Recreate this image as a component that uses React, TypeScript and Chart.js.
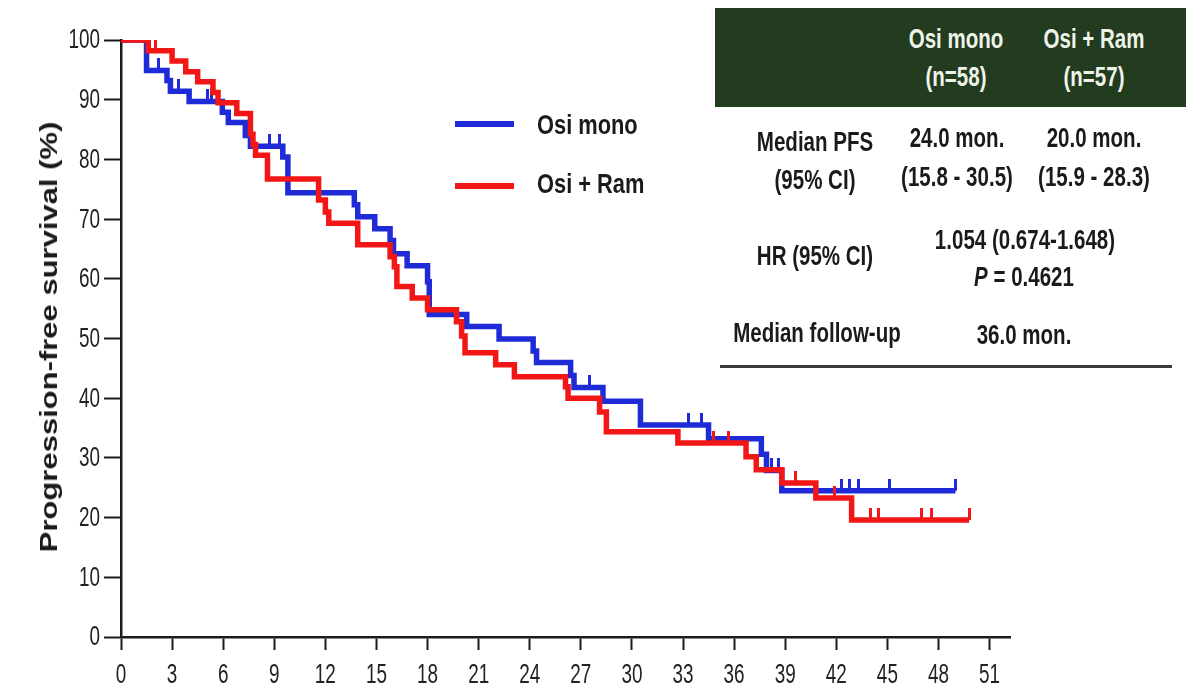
import React, { useEffect, useRef } from "react";
import { Chart, registerables } from "chart.js";

Chart.register(...registerables);

// ---- Data ----
const xTickValues = [0, 3, 6, 9, 12, 15, 18, 21, 24, 27, 30, 33, 36, 39, 42, 45, 48, 51];
const yTickValues = [0, 10, 20, 30, 40, 50, 60, 70, 80, 90, 100];

const osiMonoTimes = [0, 1.5, 2.7, 2.9, 4.0, 5.95, 6.3, 7.3, 7.6, 9.5, 9.8, 13.7, 13.9, 14.9, 15.8, 16.0, 16.8, 18.0, 18.1, 20.3, 22.2, 24.2, 24.4, 26.4, 26.6, 28.3, 30.5, 34.5, 37.6, 37.9, 38.8, 49.0];
const osiMonoSurv = [100, 94.9, 93.2, 91.4, 89.7, 87.9, 86.2, 84.0, 82.2, 80.4, 74.4, 72.4, 70.4, 68.4, 66.4, 64.2, 62.2, 59.5, 54.0, 52.0, 49.9, 47.9, 46.0, 43.8, 41.8, 39.5, 35.5, 33.2, 30.6, 27.9, 24.5, 24.5];

const osiRamTimes = [0, 1.6, 3.0, 3.8, 4.5, 5.4, 5.7, 6.8, 7.6, 7.75, 7.9, 8.6, 11.6, 12.0, 12.2, 13.9, 15.8, 16.05, 16.2, 17.1, 18.0, 19.7, 20.0, 20.2, 22.0, 23.1, 26.1, 26.25, 28.1, 28.5, 32.7, 36.7, 37.3, 38.8, 40.8, 42.9, 49.8];
const osiRamSurv = [100, 98.2, 96.5, 94.7, 93.0, 91.2, 89.5, 87.7, 84.2, 82.5, 80.7, 76.7, 73.2, 71.2, 69.3, 65.7, 63.7, 62.0, 58.7, 56.8, 54.8, 52.8, 50.4, 47.6, 45.6, 43.6, 41.9, 40.0, 37.7, 34.4, 32.5, 30.2, 28.0, 25.8, 23.3, 19.6, 19.6];

const osiMonoCensorT = [2.2, 3.4, 5.1, 5.3, 8.7, 9.3, 27.5, 33.3, 34.1, 38.2, 38.6, 42.3, 42.8, 43.3, 45.1, 49.0];
const osiMonoCensorS = [94.9, 91.4, 89.7, 89.7, 82.2, 82.2, 41.8, 35.5, 35.5, 27.9, 27.9, 24.5, 24.5, 24.5, 24.5, 24.5];
const osiRamCensorT = [2.0, 34.8, 35.7, 39.6, 41.9, 44.0, 44.5, 47.0, 47.6, 49.8];
const osiRamCensorS = [98.2, 32.5, 32.5, 25.8, 23.3, 19.6, 19.6, 19.6, 19.6, 19.6];

const seriesNames = ["Osi mono", "Osi + Ram"];
const yAxisTitle = "Progression-free survival (%)";

// ---- Styles ----
const BLUE = "#1f2bd6";
const RED = "#f31616";
const AXIS = "#1a1a1a";
const TEXT_FONT = "'Liberation Sans', Arial, sans-serif";

const toXY = (xs: number[], ys: number[]) => xs.map((x, i) => ({ x, y: ys[i] }));

function makeTickImage(color: string): HTMLCanvasElement {
  const c = document.createElement("canvas");
  c.width = 3;
  c.height = 24;
  const ctx = c.getContext("2d")!;
  ctx.fillStyle = color;
  ctx.fillRect(0, 0, 3, 12);
  return c;
}

// Draws the axis tick labels (condensed, as in the reference) at positions from the chart's scales.
const squeezedTickLabels = {
  id: "squeezedTickLabels",
  afterDraw(chart: any) {
    const ctx = chart.ctx as CanvasRenderingContext2D;
    const xs = chart.scales.x;
    const ys = chart.scales.y;
    const area = chart.chartArea;
    ctx.save();
    ctx.fillStyle = "#222";
    ctx.font = `27px ${TEXT_FONT}`;
    ctx.textBaseline = "middle";
    for (const v of xTickValues) {
      const px = xs.getPixelForValue(v);
      ctx.save();
      ctx.translate(px, area.bottom + 39);
      ctx.scale(0.7, 1);
      ctx.textAlign = "center";
      ctx.fillText(String(v), 0, 0);
      ctx.restore();
    }
    for (const v of yTickValues) {
      const py = ys.getPixelForValue(v);
      ctx.save();
      ctx.translate(area.left - 21, py);
      ctx.scale(0.7, 1);
      ctx.textAlign = "right";
      ctx.fillText(String(v), 0, 1);
      ctx.restore();
    }
    ctx.restore();
  },
};

type TProps = {
  x: number;
  y: number;
  size: number;
  color?: string;
  bold?: boolean;
  sx?: number;
  children: React.ReactNode;
};

function SqText({ x, y, size, color = "#1a1a1a", bold = true, sx = 0.76, children }: TProps) {
  return (
    <div
      style={{
        position: "absolute",
        left: x,
        top: y,
        transform: `translate(-50%, -50%) scaleX(${sx})`,
        whiteSpace: "nowrap",
        fontFamily: TEXT_FONT,
        fontSize: size,
        fontWeight: bold ? 700 : 400,
        color,
        lineHeight: 1,
      }}
    >
      {children}
    </div>
  );
}

export default function App() {
  const canvasRef = useRef<HTMLCanvasElement | null>(null);

  useEffect(() => {
    if (!canvasRef.current) return;
    const blueTick = makeTickImage(BLUE);
    const redTick = makeTickImage(RED);
    const chart = new Chart(canvasRef.current, {
      type: "line",
      data: {
        datasets: [
          {
            label: seriesNames[1],
            data: toXY(osiRamTimes, osiRamSurv),
            borderColor: RED,
            borderWidth: 5.5,
            stepped: "before",
            pointRadius: 0,
            fill: false,
          },
          {
            label: seriesNames[1] + " censored",
            data: toXY(osiRamCensorT, osiRamCensorS),
            showLine: false,
            pointStyle: redTick,
            pointRadius: 5,
          },
          {
            label: seriesNames[0],
            data: toXY(osiMonoTimes, osiMonoSurv),
            borderColor: BLUE,
            borderWidth: 5.5,
            stepped: "before",
            pointRadius: 0,
            fill: false,
          },
          {
            label: seriesNames[0] + " censored",
            data: toXY(osiMonoCensorT, osiMonoCensorS),
            showLine: false,
            pointStyle: blueTick,
            pointRadius: 5,
          },
        ],
      },
      options: {
        animation: false,
        responsive: false,
        layout: { padding: { left: 0, right: 176, top: 40, bottom: 0 } },
        plugins: { legend: { display: false }, tooltip: { enabled: false } },
        scales: {
          x: {
            type: "linear",
            min: 0,
            max: 52.2,
            afterBuildTicks: (scale: any) => {
              scale.ticks = xTickValues.map((v) => ({ value: v }));
            },
            afterFit: (scale: any) => {
              scale.height = 62;
            },
            border: { display: true, color: AXIS, width: 2.5 },
            grid: {
              display: true,
              drawOnChartArea: false,
              drawTicks: true,
              tickLength: 13,
              tickWidth: 2,
              tickColor: AXIS,
            },
            ticks: {
              color: "rgba(0,0,0,0)",
              font: { size: 20 },
              padding: 8,
              maxRotation: 0,
              autoSkip: false,
            },
          },
          y: {
            type: "linear",
            min: 0,
            max: 100,
            afterBuildTicks: (scale: any) => {
              scale.ticks = yTickValues.map((v) => ({ value: v }));
            },
            afterFit: (scale: any) => {
              scale.width = 121;
            },
            border: { display: true, color: AXIS, width: 2.5 },
            grid: {
              display: true,
              drawOnChartArea: false,
              drawTicks: true,
              tickLength: 17,
              tickWidth: 2,
              tickColor: AXIS,
            },
            ticks: {
              color: "rgba(0,0,0,0)",
              font: { size: 20 },
              padding: 4,
              autoSkip: false,
            },
          },
        },
      },
      plugins: [squeezedTickLabels],
    } as any);
    return () => chart.destroy();
  }, []);

  return (
    <div
      style={{
        position: "fixed",
        left: 0,
        top: 0,
        width: 1186,
        height: 699,
        background: "#fff",
        overflow: "hidden",
      }}
    >
      <canvas ref={canvasRef} width={1186} height={699} style={{ position: "absolute", left: 0, top: 0, display: "block" }} />

      {/* Y-axis title */}
      <div
        style={{
          position: "absolute",
          left: 49,
          top: 337,
          transform: "translate(-50%, -50%) rotate(-90deg) scale(1, 0.8)",
          whiteSpace: "nowrap",
          fontFamily: TEXT_FONT,
          fontWeight: 700,
          fontSize: 31,
          color: "#1a1a1a",
          lineHeight: 1,
        }}
      >
        {yAxisTitle}
      </div>

      {/* Legend */}
      <div style={{ position: "absolute", left: 455, top: 121, width: 59, height: 6, background: BLUE }} />
      <div style={{ position: "absolute", left: 455, top: 183, width: 59, height: 6, background: RED }} />
      <div style={{ position: "absolute", left: 537, top: 125, transform: "translateY(-50%) scaleX(0.78)", transformOrigin: "left center", whiteSpace: "nowrap", fontFamily: TEXT_FONT, fontWeight: 700, fontSize: 28, color: "#1a1a1a", lineHeight: 1 }}>
        {seriesNames[0]}
      </div>
      <div style={{ position: "absolute", left: 537, top: 184, transform: "translateY(-50%) scaleX(0.78)", transformOrigin: "left center", whiteSpace: "nowrap", fontFamily: TEXT_FONT, fontWeight: 700, fontSize: 28, color: "#1a1a1a", lineHeight: 1 }}>
        {seriesNames[1]}
      </div>

      {/* Table */}
      <div style={{ position: "absolute", left: 715, top: 8, width: 471, height: 99, background: "#233b1e" }} />
      <SqText x={956} y={39} size={27} color="#eef3ea">Osi mono</SqText>
      <SqText x={956} y={77} size={27} color="#eef3ea">(n=58)</SqText>
      <SqText x={1094} y={39} size={27} color="#eef3ea">Osi + Ram</SqText>
      <SqText x={1094} y={77} size={27} color="#eef3ea">(n=57)</SqText>

      <SqText x={815} y={142} size={27}>Median PFS</SqText>
      <SqText x={815} y={180} size={27}>(95% CI)</SqText>
      <SqText x={957} y={138} size={27}>24.0 mon.</SqText>
      <SqText x={957} y={177} size={27}>(15.8 - 30.5)</SqText>
      <SqText x={1094} y={138} size={27}>20.0 mon.</SqText>
      <SqText x={1094} y={177} size={27}>(15.9 - 28.3)</SqText>

      <SqText x={815} y={256} size={27}>HR (95% CI)</SqText>
      <SqText x={1025} y={240} size={27}>1.054 (0.674-1.648)</SqText>
      <SqText x={1024} y={277} size={27}>
        <span style={{ fontStyle: "italic" }}>P</span> = 0.4621
      </SqText>

      <SqText x={817} y={333} size={27}>Median follow-up</SqText>
      <SqText x={1024} y={335} size={27}>36.0 mon.</SqText>

      <div style={{ position: "absolute", left: 720, top: 365, width: 452, height: 3, background: "#3a3a3a" }} />
    </div>
  );
}
